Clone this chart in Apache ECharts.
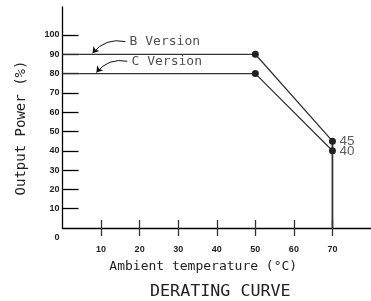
<!DOCTYPE html>
<html><head><meta charset="utf-8">
<script src="https://cdn.jsdelivr.net/npm/echarts@6/dist/echarts.min.js"></script>
<style>html,body{margin:0;padding:0;background:#fff}#c{width:371px;height:301px}</style>
</head><body><div id="c"></div>
<script>
const xTicks = [10, 20, 30, 40, 50, 60, 70];
const yTicks = [10, 20, 30, 40, 50, 60, 70, 80, 90, 100];
const yLabels = [0, 10, 20, 30, 40, 50, 60, 70, 80, 90, 100];
const bVersion = [[0, 90], [50, 90], [70, 45]];
const cVersion = [[0, 80], [50, 80], [70, 40]];
const endLine = [[70, 0], [70, 45]];
const endLabels = [[70, 45, '45'], [70, 40, '40']];
const notes = [[17.4, 96.5, 'B Version'], [17.9, 86.3, 'C Version']];
const arrows = [[[16.3, 96.6], [7.8, 90.6]], [[16.8, 86.4], [8.8, 80.6]]];

const mono = 'DejaVu Sans Mono';
const ink = '#222';
const chart = echarts.init(document.getElementById('c'));
chart.setOption({
  animation: false,
  title: {text: 'DERATING CURVE', left: 145, top: 278,
    textStyle: {fontFamily: mono, fontSize: 16.7, fontWeight: 'normal', color: ink}},
  grid: {left: 62.5, right: 0, top: 7, bottom: 73},
  xAxis: [{
    type: 'value', min: 0, max: 80, interval: 10,
    axisLine: {lineStyle: {color: '#000', width: 1.3}},
    axisTick: {show: true, inside: false, length: 8, customValues: xTicks, lineStyle: {color: '#333', width: 1.3}},
    axisLabel: {customValues: xTicks, margin: 17, fontFamily: 'Liberation Sans', fontWeight: 'bold', fontSize: 9, color: ink},
    splitLine: {show: false},
    name: 'Ambient temperature (°C)', nameLocation: 'middle', nameGap: 32,
    nameTextStyle: {fontFamily: mono, fontSize: 13, color: ink, padding: [0, 27, 0, 0]}
  }, {
    type: 'value', min: 0, max: 80, interval: 10, position: 'bottom',
    axisLine: {show: false},
    axisTick: {show: true, inside: true, length: 8, customValues: xTicks, lineStyle: {color: '#333', width: 1.3}},
    axisLabel: {show: false}, splitLine: {show: false}
  }],
  yAxis: {
    type: 'value', min: 0, max: 114.5, interval: 10,
    axisLine: {show: true, lineStyle: {color: '#000', width: 1.3}},
    axisTick: {show: true, inside: true, length: 16, customValues: yTicks, lineStyle: {color: '#000', width: 1.3}},
    axisLabel: {customValues: yLabels, margin: 3, fontFamily: 'Liberation Sans', fontWeight: 'bold', fontSize: 9, color: ink,
      formatter: v => v === 0 ? '{z|0}' : String(v),
      rich: {z: {padding: [20, 0, 0, 0], fontFamily: 'Liberation Sans', fontWeight: 'bold', fontSize: 9, color: ink}}},
    splitLine: {show: false},
    name: 'Output Power (%)', nameLocation: 'middle', nameGap: 34,
    nameTextStyle: {fontFamily: mono, fontSize: 14, color: ink, padding: [0, 21, 0, 0]}
  },
  series: [
    {type: 'line', data: bVersion, lineStyle: {color: '#333', width: 1.3}, itemStyle: {color: '#222'},
      symbol: 'circle', symbolSize: (v, p) => p.dataIndex === 0 ? 0 : 7, z: 3},
    {type: 'line', data: cVersion, lineStyle: {color: '#333', width: 1.3}, itemStyle: {color: '#222'},
      symbol: 'circle', symbolSize: (v, p) => p.dataIndex === 0 ? 0 : 7, z: 3},
    {type: 'line', data: endLine, symbol: 'none', lineStyle: {color: '#333', width: 1.8}, z: 2},
    {type: 'scatter', data: endLabels, symbolSize: 0,
      label: {show: true, position: 'right', distance: 7, formatter: p => p.data[2],
        fontFamily: 'Liberation Sans', fontSize: 13.5, color: '#333'}},
    {type: 'scatter', data: notes, symbolSize: 0,
      label: {show: true, position: 'right', distance: 0, formatter: p => p.data[2],
        fontFamily: mono, fontSize: 13, color: ink}},
    {type: 'lines', coordinateSystem: 'cartesian2d', data: arrows.map(c => ({coords: c})),
      symbol: ['none', 'arrow'], symbolSize: 6,
      lineStyle: {color: '#111', width: 1, curveness: -0.3, opacity: 1}}
  ]
});
</script></body></html>
